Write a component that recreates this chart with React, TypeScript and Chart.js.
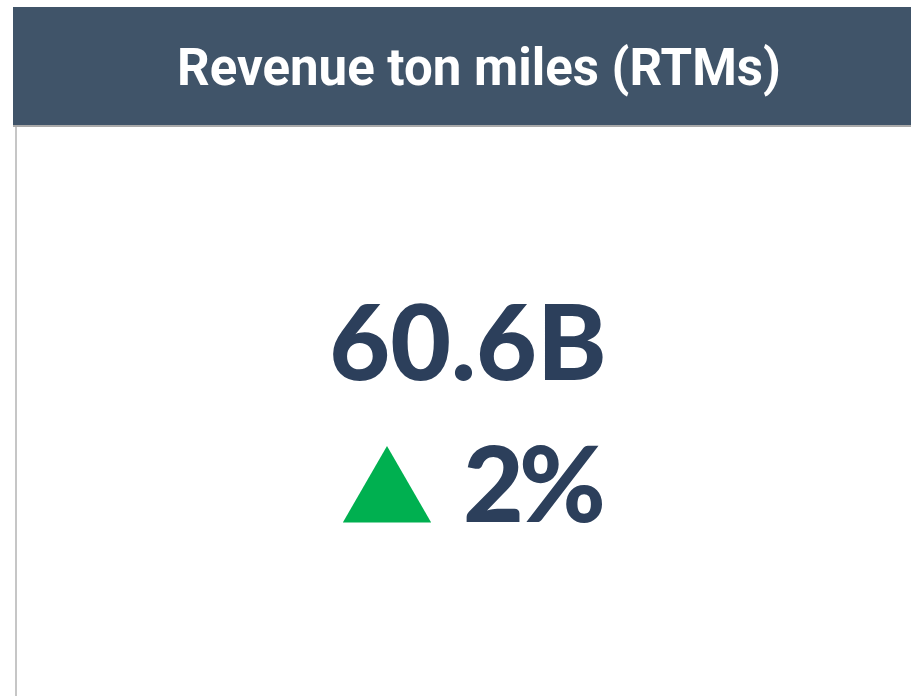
import React, { useEffect, useRef } from "react";
import { Chart, registerables } from "chart.js";

Chart.register(...registerables);

const titles = ["Revenue ton miles (RTMs)"];
const metricValues = [60.6];
const metricUnits = ["B"];
const changePercents = [2];

export default function App() {
  const ref = useRef<HTMLCanvasElement>(null);

  useEffect(() => {
    const up = changePercents[0] >= 0;
    const chart = new Chart(ref.current!, {
      type: "scatter",
      data: {
        datasets: [
          {
            data: [{ x: 0, y: 0 }],
            pointStyle: "triangle",
            pointRadius: 51,
            pointHoverRadius: 51,
            pointRotation: up ? 0 : 180,
            backgroundColor: up ? "#00b050" : "#e03c31",
            borderWidth: 0,
            clip: false,
          },
        ],
      },
      options: {
        animation: false,
        responsive: false,
        events: [],
        layout: { padding: 0, autoPadding: false },
        plugins: { legend: { display: false }, tooltip: { enabled: false } },
        scales: {
          x: { display: false, min: -1, max: 1 },
          y: { display: false, min: -1, max: 1 },
        },
      },
    });
    return () => chart.destroy();
  }, []);

  const kpiColor = "#2c3f5b";
  const valueText = metricValues[0].toFixed(1) + metricUnits[0];
  const changeText = Math.abs(changePercents[0]) + "%";

  return (
    <div style={{ position: "absolute", left: 0, top: 0, width: 911, height: 696, overflow: "hidden", background: "#fff" }}>
      <div style={{ position: "absolute", left: 13, top: 7, width: 898, height: 119, background: "#405469" }} />
      <div style={{ position: "absolute", left: 13, top: 125, width: 898, height: 2, background: "#a9a9a9" }} />
      <div style={{ position: "absolute", left: 15, top: 127, width: 2, height: 569, background: "#c6c6c6" }} />
      <div
        style={{
          position: "absolute",
          left: 0,
          width: 958,
          top: 42,
          textAlign: "center",
          color: "#ffffff",
          fontFamily: "Roboto",
          fontWeight: 700,
          fontSize: 51,
          lineHeight: "51px",
          whiteSpace: "nowrap",
        }}
      >
        {titles[0]}
      </div>
      <div
        style={{
          position: "absolute",
          left: 0,
          width: 936,
          top: 287,
          textAlign: "center",
          color: kpiColor,
          fontFamily: "Lato",
          fontWeight: 900,
          fontSize: 105,
          lineHeight: "105px",
          whiteSpace: "nowrap",
        }}
      >
        {valueText}
      </div>
      <canvas
        ref={ref}
        width={120}
        height={120}
        style={{ position: "absolute", left: 326.5, top: 437, width: 120, height: 120 }}
      />
      <div
        style={{
          position: "absolute",
          left: 463,
          top: 429,
          color: kpiColor,
          fontFamily: "Lato",
          fontWeight: 900,
          fontSize: 105,
          lineHeight: "105px",
          letterSpacing: -5,
          whiteSpace: "nowrap",
        }}
      >
        {changeText}
      </div>
    </div>
  );
}
